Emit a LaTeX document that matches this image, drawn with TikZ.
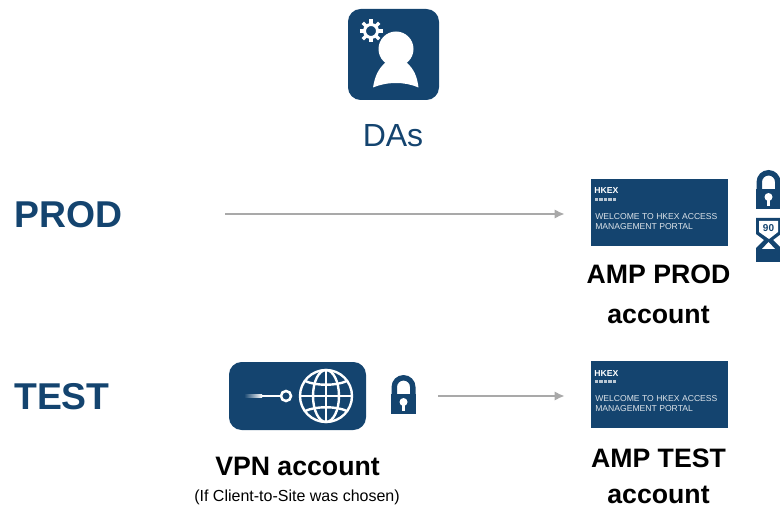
\documentclass[tikz,border=0pt]{standalone}
\usepackage{fontspec}
\setmainfont{Liberation Sans}
\usetikzlibrary{arrows.meta}
\definecolor{hk}{HTML}{14446F}
\definecolor{arrowgray}{HTML}{A9A9A9}
\tikzset{
  x=0.75pt,y=-0.75pt,
  lab/.style={font=\fontsize{#1}{#1}\selectfont\bfseries,text=black,inner sep=0pt,align=center},
  head/.style={font=\fontsize{28}{28}\selectfont\bfseries,text=hk,inner sep=0pt,anchor=base west},
  banner/.style={fill=hk,minimum width=102.75pt,minimum height=50.25pt,inner sep=0pt,draw=none},
  flow/.style={draw=arrowgray,line width=1.9pt,-{Latex[length=7.5pt,width=7pt]},shorten >=19.5pt},
  pics/padlock/.style={code={
    \fill[hk] (-12,-27) arc[start angle=180,end angle=360,radius=12] -- (12,-19) -- (6.5,-19) -- (6.5,-27) arc[start angle=360,end angle=180,radius=6.5] -- (-6.5,-19) -- (-12,-19) -- cycle;
    \fill[hk] (-12.5,-20) rectangle (12.5,0);
    \fill[white] (0,-12) circle[radius=4];
    \fill[white] (-1.3,-11) rectangle (1.3,-3);
  }},
  pics/bannertext/.style={code={
    \node[inner sep=0pt,anchor=base west,text=white,font=\fontsize{6.5}{6.5}\selectfont\bfseries] (#1h) at (3,15) {HKEX};
    \node[inner sep=0pt,anchor=base west,text=white!85!hk,font=\fontsize{6.45}{6.45}\selectfont] (#1a) at (4,40.5) {WELCOME TO HKEX ACCESS};
    \node[inner sep=0pt,anchor=base west,text=white!85!hk,font=\fontsize{6.45}{6.45}\selectfont] (#1b) at (4,50.5) {MANAGEMENT PORTAL};
    \foreach \i in {0,...,4} \fill[white!70!hk] (3.5+\i*4.6,19) rectangle +(3.4,3.4);
  }},
}
\begin{document}
\begin{tikzpicture}
\useasboundingbox (0,0) rectangle (780,505);
% DA icon
\node[fill=hk,rounded corners=9.5pt,minimum size=68.25pt,inner sep=0pt] (da) at (393.5,54.5) {};
\fill[white] (396,49) circle[radius=17.5];
\fill[white] (373,87.5) .. controls (375,76) and (378,69) .. (386,62) -- (406,62) .. controls (414,69) and (417,76) .. (418.5,87.5) .. controls (405,81.5) and (387,81.5) .. (373,87.5) -- cycle;
\draw[white,line width=2.2pt] (371,31) circle[radius=6.5];
\foreach \a in {0,45,...,315} \draw[white,line width=2.6pt] (371,31) ++(\a:7) -- ++(\a:4.5);
\node[font=\fontsize{24}{24}\selectfont,text=hk,inner sep=0pt,anchor=base] (dal) at (393,147) {DAs};
% rows
\node[head] (prod) at (14,228) {PROD};
\node[head] (test) at (14,409) {TEST};
% banners
\node[banner] (ampprod) at (659.5,212.5) {};
\node[banner] (amptest) at (659.5,394.5) {};
\begin{scope}[shift={(591,179)}]
 \pic {bannertext=p};
\end{scope}
\begin{scope}[shift={(591,361)}]
 \pic {bannertext=t};
\end{scope}
\node[lab=20,anchor=base] (ampprodl) at (658.5,284) {AMP PROD};
\node[lab=20,anchor=base] (ampprodm) at (658.5,323.5) {account};
\node[lab=20,anchor=base] (amptestl) at (658.5,467) {AMP TEST};
\node[lab=20,anchor=base] (amptestm) at (658.5,503.5) {account};
% locks
\begin{scope}[shift={(768.5,209)}] \pic {padlock}; \end{scope}
\begin{scope}[shift={(403.5,414)}] \pic {padlock}; \end{scope}
% hourglass
\fill[hk] (756,218) -- (781,218) -- (781,234) -- (773,240) -- (781,248) -- (781,262) -- (756,262) -- (756,248) -- (764,240) -- (756,234) -- cycle;
\fill[white] (759,221) -- (778,221) -- (778,232) -- (769,239) -- (759,232) -- cycle;
\fill[white] (768.5,242) -- (775,249) -- (762,249) -- cycle;
\node[inner sep=0pt,font=\fontsize{7.5}{7.5}\selectfont\bfseries,text=hk] (ninety) at (768.5,228) {90};
% VPN
\node[fill=hk,rounded corners=9.5pt,minimum width=102.75pt,minimum height=51pt,inner sep=0pt] (vpn) at (297.5,396) {};
\shade[left color=hk,right color=white] (244,394.8) rectangle (262,397.2);
\fill[white] (262,394.8) rectangle (281,397.2);
\draw[white,line width=1.9pt] (286,396) circle[radius=5];
\begin{scope}[shift={(326,396)},white,line width=1.8pt]
\draw (0,0) circle[radius=26];
\draw (0,0) ellipse[x radius=13,y radius=26];
\draw (0,-26) -- (0,26);
\draw (-26,0) -- (26,0);
\draw (-21,-15) .. controls (-10,-10) and (10,-10) .. (21,-15);
\draw (-21,15) .. controls (-10,10) and (10,10) .. (21,15);
\end{scope}
\node[lab=20,anchor=base] (vpnl) at (297.5,475) {VPN account};
\node[font=\fontsize{12}{12}\selectfont,inner sep=0pt,anchor=base] (vpnn) at (297,501) {(If Client-to-Site was chosen)};
% arrows
\coordinate (ps) at (225,214);
\coordinate (ts) at (438,396);
\draw[flow] (ps) -- (ps -| ampprod.west);
\draw[flow] (ts) -- (ts -| amptest.west);
\end{tikzpicture}
\end{document}
